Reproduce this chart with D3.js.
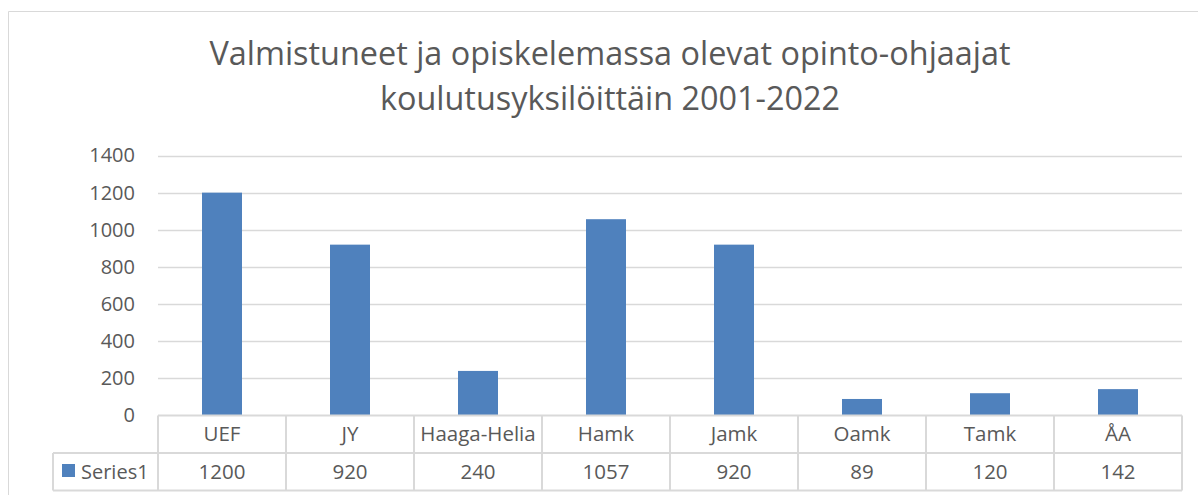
<!DOCTYPE html>
<html>
<head>
<meta charset="utf-8">
<script src="https://cdn.jsdelivr.net/npm/d3@7"></script>
<style>
  body { margin: 0; background: #fff; }
  text { font-family: "Open Sans", sans-serif; fill: #595959; }
</style>
</head>
<body>
<svg id="chart"></svg>
<script>
const categories = ['UEF', 'JY', 'Haaga-Helia', 'Hamk', 'Jamk', 'Oamk', 'Tamk', 'ÅA'];
const values = [1200, 920, 240, 1057, 920, 89, 120, 142];
const seriesName = 'Series1';
const yTicks = [0, 200, 400, 600, 800, 1000, 1200, 1400];
const titleLines = ['Valmistuneet ja opiskelemassa olevat opinto-ohjaajat', 'koulutusyksilöittäin 2001-2022'];

const width = 1198;
const height = 495;
const plotLeft = 158, plotRight = 1182, plotTop = 155.5, plotBottom = 415.5;
const rowH = 37.5;
const grid = '#d9d9d9';

const svg = d3.select('#chart').attr('width', width).attr('height', height);

// outer chart border (only top and left visible in the frame)
svg.append('path').attr('d', `M8.5,${height}V11.5H${width}`)
  .attr('fill', 'none').attr('stroke', grid).attr('stroke-width', 1);

// title
svg.append('g').selectAll('text').data(titleLines).enter().append('text')
  .attr('x', 610).attr('y', (d, i) => 65 + i * 45)
  .attr('text-anchor', 'middle').style('font-size', '32.4px')
  .text(d => d);

const xScale = d3.scaleBand().domain(categories).range([plotLeft, plotRight]).paddingInner(0).paddingOuter(0);
const yScale = d3.scaleLinear().domain([0, 1400]).range([plotBottom, plotTop]);

// gridlines
svg.append('g').selectAll('line').data(yTicks.filter(d => d > 0)).enter().append('line')
  .attr('x1', plotLeft).attr('x2', plotRight)
  .attr('y1', d => Math.round(yScale(d)) + 0.5).attr('y2', d => Math.round(yScale(d)) + 0.5)
  .attr('stroke', grid).attr('stroke-width', 1.5);

// y axis labels
const yAxis = d3.axisLeft(yScale).tickValues(yTicks).tickFormat(d3.format('d')).tickSize(0).tickPadding(0);
const yg = svg.append('g').attr('transform', 'translate(135,0)').call(yAxis);
yg.select('.domain').remove();
yg.selectAll('text').style('font-size', '20px').style('font-family', '"Open Sans", sans-serif').attr('fill', '#595959');

// bars
const barW = 40;
svg.append('g').selectAll('rect').data(values).enter().append('rect')
  .attr('x', (d, i) => xScale(categories[i]) + xScale.bandwidth() / 2 - barW / 2)
  .attr('width', barW)
  .attr('y', d => yScale(d))
  .attr('height', d => yScale(0) - yScale(d))
  .attr('fill', '#4f81bd');

// data table
const tbl = svg.append('g').attr('stroke', grid).attr('stroke-width', 2).attr('fill', 'none');
const rowTop = plotBottom, rowMid = plotBottom + rowH, rowBot = plotBottom + 2 * rowH;
tbl.append('line').attr('x1', plotLeft).attr('x2', plotRight).attr('y1', rowTop).attr('y2', rowTop);
tbl.append('line').attr('x1', 53).attr('x2', plotRight).attr('y1', rowMid).attr('y2', rowMid);
tbl.append('line').attr('x1', 53).attr('x2', plotRight).attr('y1', rowBot).attr('y2', rowBot);
tbl.append('line').attr('x1', 53).attr('x2', 53).attr('y1', rowMid).attr('y2', rowBot);
const edges = categories.map(c => xScale(c)).concat([plotRight]);
tbl.selectAll('.v').data(edges).enter().append('line')
  .attr('x1', d => d).attr('x2', d => d).attr('y1', rowTop).attr('y2', rowBot);

svg.append('g').selectAll('text').data(categories).enter().append('text')
  .attr('x', d => xScale(d) + xScale.bandwidth() / 2).attr('y', rowTop + rowH / 2 + 7)
  .attr('text-anchor', 'middle').style('font-size', '20.5px').text(d => d);

svg.append('g').selectAll('text').data(values).enter().append('text')
  .attr('x', (d, i) => xScale(categories[i]) + xScale.bandwidth() / 2).attr('y', rowMid + rowH / 2 + 7)
  .attr('text-anchor', 'middle').style('font-size', '20.5px').text(d => d);

// legend key in table
svg.append('rect').attr('x', 62).attr('y', 464).attr('width', 13).attr('height', 13).attr('fill', '#4f81bd');
svg.append('text').attr('x', 81).attr('y', rowMid + rowH / 2 + 7).style('font-size', '20px').text(seriesName);
</script>
</body>
</html>
